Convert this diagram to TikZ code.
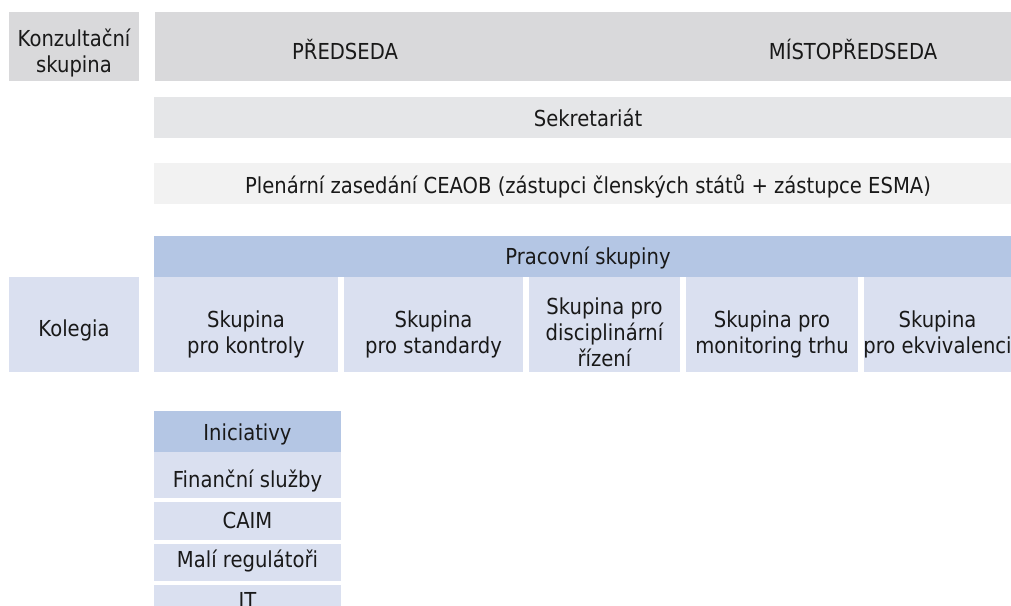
\documentclass[tikz,border=0pt]{standalone}
\usepackage{fontspec}
\setmainfont[FakeStretch=0.89]{DejaVu Sans}
\definecolor{sivaA}{RGB}{217,217,219}
\definecolor{sivaB}{RGB}{229,230,232}
\definecolor{sivaC}{RGB}{242,242,242}
\definecolor{modraA}{RGB}{180,198,228}
\definecolor{modraB}{RGB}{218,224,240}
\tikzstyle{txt}=[inner sep=0pt,align=center,text=black!90,font=\fontsize{16.5}{19.5}\selectfont]

\begin{document}
\begin{tikzpicture}[x=0.75pt,y=-0.75pt]
\useasboundingbox (0,0) rectangle (1011,606);

% vedeni
\fill[sivaA] (9,12) rectangle (139,81);
\fill[sivaA] (155,12) rectangle (1022,81);
\node[txt] (ks) at (74,52.5) {Konzultační\\skupina};
\node[txt,anchor=base] (pa) at (345,59.3) {PŘEDSEDA};
\node[txt,anchor=base] (mi) at (853,59.3) {MÍSTOPŘEDSEDA};

\fill[sivaB] (154,97) rectangle (1022,138);
\node[txt,anchor=base] (se) at (588,126.7) {Sekretariát};
\fill[sivaC] (154,163) rectangle (1022,204);
\node[txt,anchor=base] (pl) at (588,193.3)
{Plenární zasedání CEAOB (zástupci členských států + zástupce ESMA)};

% pracovni skupiny
\fill[modraA] (154,236) rectangle (1022,277);
\node[txt,anchor=base] (ps) at (588,265) {Pracovní skupiny};
\fill[modraB] (9,277) rectangle (139,372);
\node[txt,anchor=base] (kl) at (74,336.7) {Kolegia};
\fill[modraB] (154,277) rectangle (338,372);
\node[txt] (s1) at (246,334) {Skupina\\pro kontroly};
\fill[modraB] (344,277) rectangle (523,372);
\node[txt] (s2) at (433.5,334) {Skupina\\pro standardy};
\fill[modraB] (529,277) rectangle (680,372);
\node[txt] (s3) at (604.5,331.8) {Skupina pro\\disciplinární\\řízení};
\fill[modraB] (686,277) rectangle (858,372);
\node[txt] (s4) at (772,334.2) {Skupina pro\\monitoring trhu};
\fill[modraB] (864,277) rectangle (1011,372);
\node[txt] (s5) at (937.5,334) {Skupina\\pro ekvivalenci};

% iniciativy
\fill[modraA] (154,411) rectangle (341,452);
\node[txt,anchor=base] (in) at (247.5,440) {Iniciativy};
\fill[modraB] (154,452) rectangle (341,498);
\node[txt,anchor=base] (i1) at (247.5,487) {Finanční služby};
\fill[modraB] (154,502) rectangle (341,540);
\node[txt,anchor=base] (i2) at (247.5,528) {CAIM};
\fill[modraB] (154,544) rectangle (341,581);
\node[txt,anchor=base] (i3) at (247.5,567) {Malí regulátoři};
\fill[modraB] (154,585) rectangle (341,622);
\node[txt,anchor=base] (i4) at (247.5,608) {IT};

\end{tikzpicture}
\end{document}
